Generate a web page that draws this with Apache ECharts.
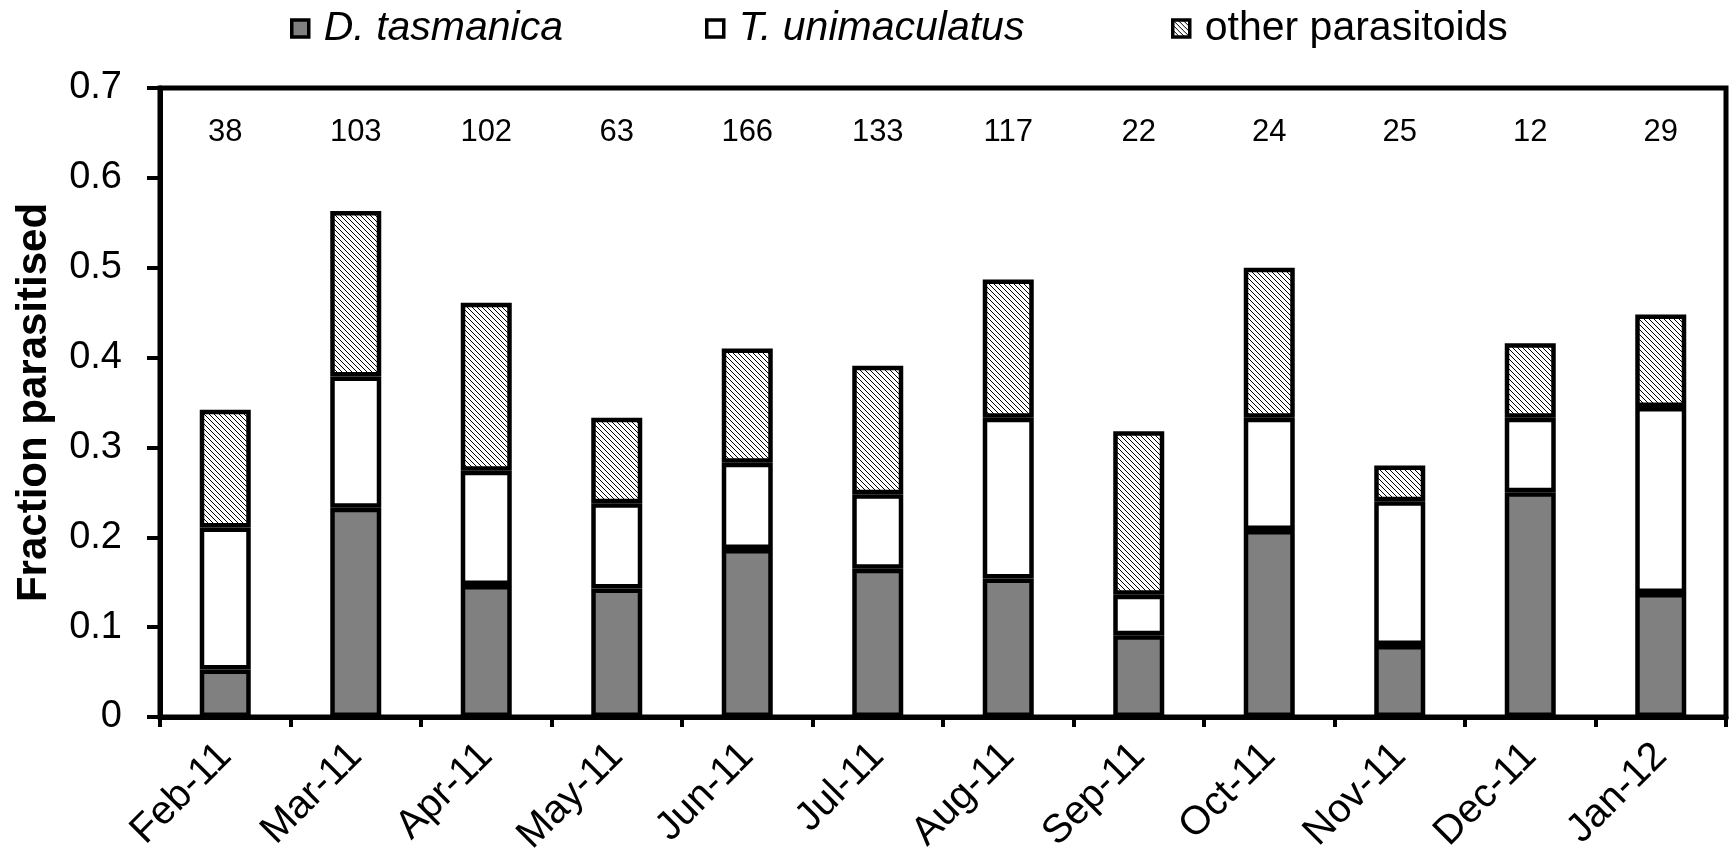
<!DOCTYPE html>
<html>
<head>
<meta charset="utf-8">
<script src="https://cdn.jsdelivr.net/npm/echarts@6/dist/echarts.min.js"></script>
<style>
  html, body { margin: 0; padding: 0; background: #fff; }
  #chart { width: 1732px; height: 868px; }
</style>
</head>
<body>
<div id="chart"></div>
<script>
// months sampled
const months = ["Feb-11", "Mar-11", "Apr-11", "May-11", "Jun-11", "Jul-11",
  "Aug-11", "Sep-11", "Oct-11", "Nov-11", "Dec-11", "Jan-12"];
// fraction parasitised, one stacked segment per parasitoid
const tasmanica = [0.053, 0.233, 0.147, 0.143, 0.187, 0.165, 0.154, 0.091, 0.208, 0.080, 0.250, 0.138];
const unimaculatus = [0.158, 0.146, 0.127, 0.095, 0.096, 0.083, 0.179, 0.045, 0.125, 0.160, 0.083, 0.207];
const otherParasitoids = [0.131, 0.184, 0.187, 0.095, 0.127, 0.143, 0.154, 0.182, 0.167, 0.040, 0.083, 0.103];
// number of hosts per month, printed above the bars
const sampleSizes = [38, 103, 102, 63, 166, 133, 117, 22, 24, 25, 12, 29];
const countRow = 0.65;

// dense diagonal hatch for "other parasitoids"
function makeHatch() {
  const c = document.createElement("canvas");
  c.width = 5;
  c.height = 5;
  const ctx = c.getContext("2d");
  ctx.fillStyle = "#fff";
  ctx.fillRect(0, 0, 5, 5);
  ctx.fillStyle = "#000";
  for (let i = 0; i < 5; i++) ctx.fillRect(i, i, 1, 1);
  return c;
}
const hatch = { image: makeHatch(), repeat: "repeat" };

const font = "Liberation Sans";
const barStyle = fill => ({ color: fill, borderColor: "#000", borderWidth: 4.5 });

function legendFor(name, left, italic) {
  return {
    left: left,
    top: 3,
    icon: "rect",
    itemWidth: 17,
    itemHeight: 17,
    itemStyle: { borderWidth: 3.5 },
    selectedMode: false,
    data: [{ name: name, textStyle: { fontStyle: italic ? "italic" : "normal" } }],
    textStyle: { fontSize: 41, color: "#000", fontFamily: font, padding: [0, 0, 0, 10] }
  };
}

const chart = echarts.init(document.getElementById("chart"));
chart.setOption({
  animation: false,
  textStyle: { fontFamily: font, color: "#000" },
  legend: [
    legendFor("D. tasmanica", 285, true),
    legendFor("T. unimaculatus", 700, true),
    legendFor("other parasitoids", 1166, false)
  ],
  grid: {
    left: 160,
    right: 6,
    top: 88,
    bottom: 151,
    outerBoundsMode: "none",
    show: true,
    borderColor: "#000",
    borderWidth: 5
  },
  xAxis: {
    type: "category",
    data: months,
    axisLine: { lineStyle: { color: "#000", width: 5 } },
    axisTick: { show: true, length: 10, lineStyle: { color: "#000", width: 4 } },
    axisLabel: { rotate: 45, fontSize: 40, color: "#000", margin: 33 }
  },
  yAxis: {
    type: "value",
    min: 0,
    max: 0.7,
    interval: 0.1,
    name: "Fraction parasitised",
    nameLocation: "middle",
    nameGap: 105,
    nameTextStyle: { fontSize: 42, fontWeight: "bold", color: "#000" },
    axisLine: { show: true, lineStyle: { color: "#000", width: 5 } },
    axisTick: { show: true, length: 13, lineStyle: { color: "#000", width: 4 } },
    axisLabel: {
      fontSize: 38,
      color: "#000",
      margin: 38,
      formatter: v => (v === 0 ? "0" : v.toFixed(1))
    },
    splitLine: { show: false }
  },
  series: [
    { name: "D. tasmanica", type: "bar", stack: "frac", barWidth: 51, data: tasmanica, itemStyle: barStyle("#808080") },
    { name: "T. unimaculatus", type: "bar", stack: "frac", barWidth: 51, data: unimaculatus, itemStyle: barStyle("#ffffff") },
    { name: "other parasitoids", type: "bar", stack: "frac", barWidth: 51, data: otherParasitoids, itemStyle: barStyle(hatch) },
    {
      type: "scatter",
      silent: true,
      symbolSize: 0,
      itemStyle: { opacity: 1 },
      data: months.map(m => [m, countRow]),
      label: {
        show: true,
        position: "inside",
        fontSize: 31,
        color: "#000",
        opacity: 1,
        formatter: p => String(sampleSizes[p.dataIndex])
      }
    }
  ]
});
</script>
</body>
</html>
